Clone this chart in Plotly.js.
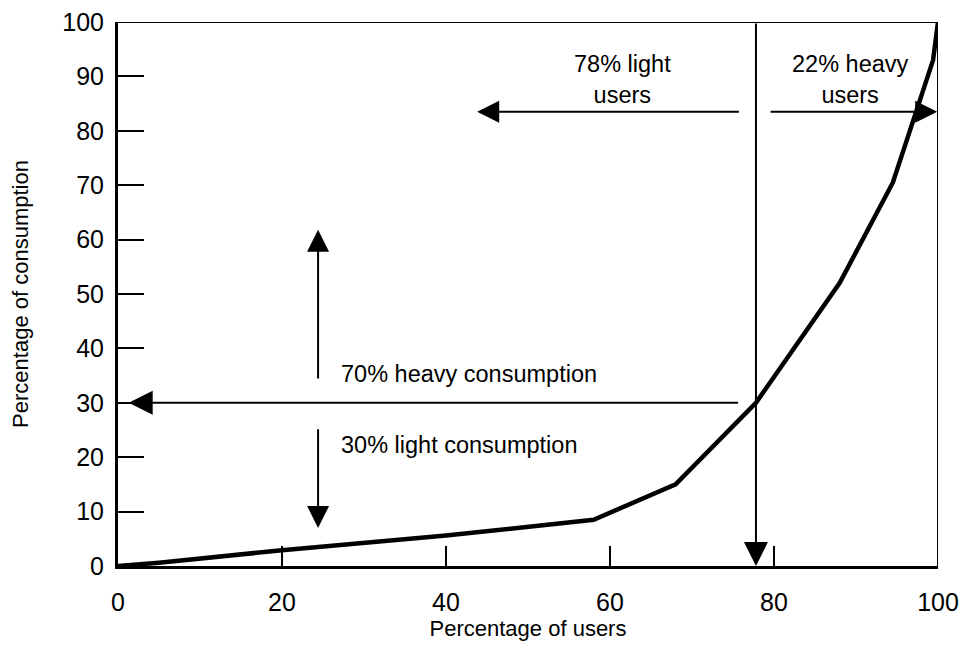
<!DOCTYPE html>
<html>
<head>
<meta charset="utf-8">
<script src="https://cdn.plot.ly/plotly-3.0.1.min.js"></script>
<style>
  html, body { margin: 0; padding: 0; background: #ffffff; }
  #chart { width: 965px; height: 649px; }
</style>
</head>
<body>
<div id="chart"></div>
<script>
// ---- data ----
const usersPct = [0, 5, 20, 40, 58, 68, 77.8, 88, 94.5, 99.4, 100];
const consumptionPct = [0, 0.6, 2.9, 5.6, 8.5, 15, 30, 52, 70.5, 93, 100];

const xTickVals = [0, 20, 40, 60, 80, 100];
const yTickVals = [0, 10, 20, 30, 40, 50, 60, 70, 80, 90, 100];

// split point on the curve
const splitUsers = [77.8];        // % of users (light | heavy)
const splitConsumption = [30];    // % of consumption

const userLabels = ["78% light<br>users", "22% heavy<br>users"];
const consumptionLabels = ["70% heavy consumption", "30% light consumption"];

const FONT = "Liberation Sans, Arial, Helvetica, sans-serif";

const trace = {
  x: usersPct,
  y: consumptionPct,
  type: "scatter",
  mode: "lines",
  line: { color: "#000000", width: 4.5 },
  hoverinfo: "skip",
  showlegend: false
};

const sx = splitUsers[0];
const sy = splitConsumption[0];

function arrow(x, y, ax, ay, size) {
  return {
    x: x, y: y, ax: ax, ay: ay,
    xref: "x", yref: "y", axref: "x", ayref: "y",
    text: "", showarrow: true,
    arrowhead: 2, arrowsize: size || 2.2, arrowwidth: 2,
    arrowcolor: "#000000", standoff: 0, startstandoff: 0
  };
}

const annotations = [
  arrow(sx, 0, sx, 100, 2.4),
  arrow(1.3, sy, sx - 2, sy, 2.4),
  arrow(43.8, 83.5, sx - 1.9, 83.5, 2.2),
  arrow(99.9, 83.5, sx + 1.6, 83.5, 2.2),
  arrow(24.4, 61.8, 24.4, 34.2, 2.2),
  arrow(24.4, 7, 24.4, 25.4, 2.2),
  { x: 61.5, y: 89.4, xref: "x", yref: "y", text: userLabels[0], showarrow: false,
    font: { family: FONT, size: 23.5, color: "#000" }, align: "center" },
  { x: 89.3, y: 89.4, xref: "x", yref: "y", text: userLabels[1], showarrow: false,
    font: { family: FONT, size: 23.5, color: "#000" }, align: "center" },
  { x: 27, y: 35.3, xref: "x", yref: "y", text: consumptionLabels[0], showarrow: false,
    xanchor: "left", font: { family: FONT, size: 23.5, color: "#000" } },
  { x: 27, y: 22.2, xref: "x", yref: "y", text: consumptionLabels[1], showarrow: false,
    xanchor: "left", font: { family: FONT, size: 23.5, color: "#000" } }
];

const shapes = [
  { type: "line", xref: "x", yref: "y", x0: 0, x1: 100, y0: 100, y1: 100,
    line: { color: "#000", width: 2 } },
  { type: "line", xref: "x", yref: "y", x0: 100, x1: 100, y0: 0, y1: 100,
    line: { color: "#000", width: 2 } }
];

const layout = {
  width: 965,
  height: 649,
  margin: { l: 118, r: 27, t: 22, b: 83 },
  paper_bgcolor: "#ffffff",
  plot_bgcolor: "#ffffff",
  font: { family: FONT, color: "#000000" },
  showlegend: false,
  xaxis: {
    range: [0, 100],
    tickvals: xTickVals,
    ticktext: xTickVals.map(String),
    ticks: "inside",
    ticklen: 20,
    tickwidth: 2,
    tickcolor: "#000",
    showline: true,
    linewidth: 3,
    linecolor: "#000",
    showgrid: false,
    zeroline: false,
    ticklabelstandoff: 12,
    tickfont: { family: FONT, size: 25, color: "#000" },
    title: { text: "Percentage of users", font: { family: FONT, size: 22, color: "#000" }, standoff: 6 },
    automargin: false,
    fixedrange: true
  },
  yaxis: {
    range: [0, 100],
    tickvals: yTickVals,
    ticktext: yTickVals.map(String),
    ticks: "inside",
    ticklen: 26,
    tickwidth: 2,
    tickcolor: "#000",
    showline: true,
    linewidth: 3,
    linecolor: "#000",
    showgrid: false,
    zeroline: false,
    ticklabelstandoff: 6,
    tickfont: { family: FONT, size: 25, color: "#000" },
    title: { text: "Percentage of consumption", font: { family: FONT, size: 22, color: "#000" }, standoff: 28 },
    automargin: false,
    fixedrange: true
  },
  annotations: annotations,
  shapes: shapes
};

Plotly.newPlot("chart", [trace], layout, { displayModeBar: false, staticPlot: true });
</script>
</body>
</html>
